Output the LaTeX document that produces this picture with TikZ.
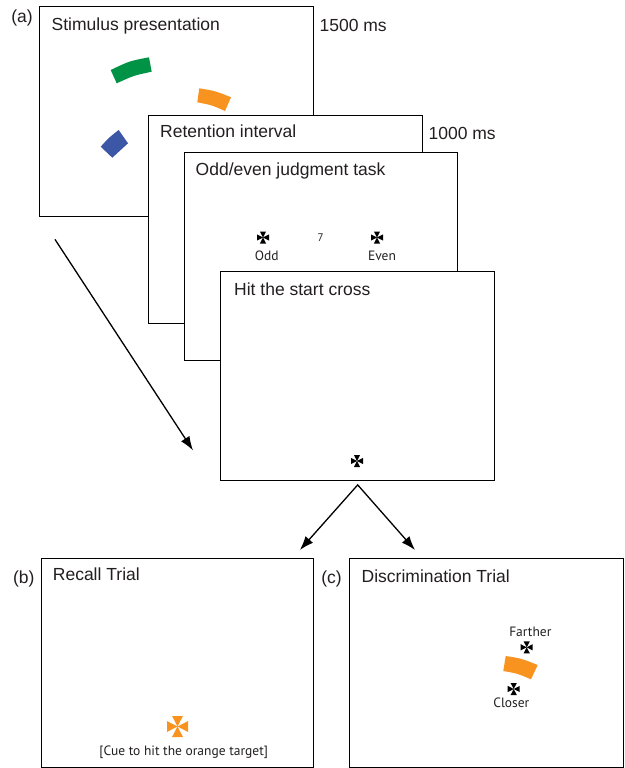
\documentclass[tikz,border=0pt]{standalone}
\usepackage{fontspec}
\setmainfont{Liberation Sans}
\newfontfamily\labelfont{PT Sans}
\usetikzlibrary{arrows.meta, calc}

\definecolor{stimgreen}{RGB}{0,146,69}
\definecolor{stimorange}{RGB}{247,147,30}
\definecolor{stimblue}{RGB}{59,87,166}
\definecolor{textgray}{RGB}{35,31,32}

\tikzset{
    screen/.style={draw, line width=1.4pt, fill=white, rectangle, inner sep=0pt, anchor=north west},
    title/.style={anchor=base west, inner sep=0pt, text=textgray, font=\fontsize{17.5}{20}\selectfont},
    panel/.style={anchor=base east, inner sep=0pt, text=textgray, font=\fontsize{17.5}{20}\selectfont},
    timing/.style={anchor=base west, inner sep=0pt, text=textgray, font=\fontsize{17.5}{20}\selectfont},
    smalltext/.style={anchor=base, inner sep=0pt, text=textgray, font=\labelfont\fontsize{13.5}{16}\selectfont},
    flow/.style={line width=1.3pt, -{Latex[length=14pt, width=10pt]}},
    pics/hitcross/.style={code={
        \fill (0,0) -- (-3.1,-6) -- (3.1,-6) -- cycle;
        \fill (0,0) -- (-3.1,6) -- (3.1,6) -- cycle;
        \fill (0,0) -- (-6,-3.1) -- (-6,3.1) -- cycle;
        \fill (0,0) -- (6,-3.1) -- (6,3.1) -- cycle;
    }}
}

\begin{document}
\begin{tikzpicture}[x=1pt, y=-1pt]
    \useasboundingbox (0,0) rectangle (624,768);

    % Stimulus presentation
    \node (stimulus) [screen, minimum width=274pt, minimum height=210pt] at (39,6) {};
    \node (stimtitle) [title] at ($(stimulus.north west)+(12.5,24.5)$) {Stimulus presentation};
    \node (panela) [panel] at ($(stimulus.north west)+(-6,17)$) {(a)};
    \node (stimtime) [timing] at ($(stimulus.north east)+(5,25.5)$) {1500 ms};

    % Targets to remember
    \fill[stimgreen] (110.7,70) .. controls (129.5,61) .. (149,57.3) -- (151.7,71.7) .. controls (133.8,75.5) .. (116.7,83.3) -- cycle;
    \fill[stimorange] (199.3,88.3) .. controls (215.5,91) .. (231,97.3) -- (225,111) .. controls (211.5,105) .. (197.3,102.3) -- cycle;
    \fill[stimblue] (100.7,146.7) .. controls (109,137.5) .. (118.7,130) -- (128,143.3) .. controls (119.5,149.8) .. (112.3,157.7) -- cycle;

    % Retention interval
    \node (retention) [screen, minimum width=274pt, minimum height=208pt] at (148,115) {};
    \node (rettitle) [title] at ($(retention.north west)+(12,22.5)$) {Retention interval};
    \node (rettime) [timing] at ($(retention.north east)+(5,24)$) {1000 ms};

    % Odd/even judgment task
    \node (judgment) [screen, minimum width=273.5pt, minimum height=207.5pt] at (183.5,152) {};
    \node (judgtitle) [title] at ($(judgment.north west)+(12,23.3)$) {Odd/even judgment task};
    \pic at (263,237.5) {hitcross};
    \pic at (377,237.5) {hitcross};
    \node (odd) [smalltext] at (266.7,260) {Odd};
    \node (even) [smalltext] at (382,260) {Even};
    \node (digit) [smalltext, font=\labelfont\fontsize{11}{13}\selectfont] at (320.5,241.5) {7};

    % Hit the start cross
    \node (start) [screen, minimum width=274pt, minimum height=209pt] at (220,271) {};
    \node (starttitle) [title] at ($(start.north west)+(14,24)$) {Hit the start cross};
    \pic at (357,461) {hitcross};

    % Recall trial
    \node (recall) [screen, minimum width=272.3pt, minimum height=209pt] at (40.7,558) {};
    \node (recalltitle) [title] at ($(recall.north west)+(12,22.7)$) {Recall Trial};
    \node (panelb) [panel] at ($(recall.north west)+(-6,25)$) {(b)};
    \pic[stimorange, scale=1.75] at (177.5,726.5) {hitcross};
    \node (cue) [smalltext] at (183.7,755) {[Cue to hit the orange target]};

    % Discrimination trial
    \node (discrim) [screen, minimum width=273.7pt, minimum height=209pt] at (349,558) {};
    \node (discrimtitle) [title] at ($(discrim.north west)+(12.5,24.7)$) {Discrimination Trial};
    \node (panelc) [panel] at ($(discrim.north west)+(-7,25)$) {(c)};
    \fill[stimorange] (505.7,656) .. controls (521.5,658.5) .. (537.7,665) -- (531,679.3) .. controls (517.5,673.5) .. (503.3,671) -- cycle;
    \pic at (526.7,647.3) {hitcross};
    \pic at (513.7,689) {hitcross};
    \node (farther) [smalltext] at (530.3,636.7) {Farther};
    \node (closer) [smalltext] at (511.3,707.3) {Closer};

    % Arrows between screens
    \coordinate (stimtail) at ($(stimulus.south west)+(16,22)$);
    \coordinate (starttip) at ($(start.south west)+(-27,-31)$);
    \draw[flow] (stimtail) -- (starttip);

    \coordinate (fork) at ($(start.south)+(0,3.5)$);
    \coordinate (recalltip) at ($(recall.north east)+(-14.5,-8)$);
    \coordinate (discrimtip) at ($(discrim.north west)+(66,-8)$);
    \draw[flow, {Latex[length=14pt, width=10pt]}-{Latex[length=14pt, width=10pt]}] (recalltip) -- (fork) -- (discrimtip);
\end{tikzpicture}
\end{document}
